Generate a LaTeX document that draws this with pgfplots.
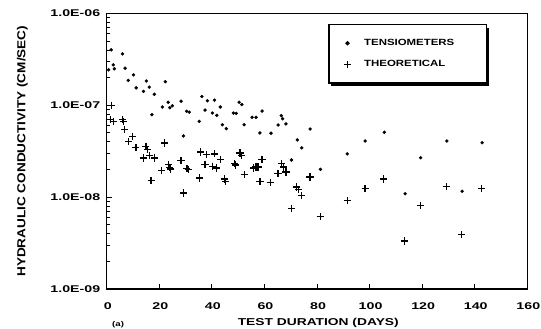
\documentclass[border=0pt]{standalone}
\usepackage{fontspec}
\usepackage{pgfplots}
\usepackage{pgfplotstable}
\pgfplotsset{compat=1.18}
\usetikzlibrary{shadows}
\setmainfont{Liberation Sans}
\newfontfamily\tickfam{Liberation Sans}[FakeStretch=1.45, BoldFeatures={FakeStretch=1.45}]
\newfontfamily\xlabfam{Liberation Sans}[FakeStretch=1.38, BoldFeatures={FakeStretch=1.38}]
\newfontfamily\ylabfam{Liberation Sans}[FakeStretch=1.17, BoldFeatures={FakeStretch=1.17}]
\newfontfamily\legfam{Liberation Sans}[FakeStretch=1.27, BoldFeatures={FakeStretch=1.27}]

\pgfplotstableread{
d k
0.7 2.44e-7
1.7 4.02e-7
2.5 2.76e-7
2.9 2.50e-7
6.0 3.64e-7
7.0 2.54e-7
8.2 1.87e-7
10.2 2.15e-7
11.2 1.55e-7
14.0 1.42e-7
15.1 1.84e-7
16.2 1.58e-7
17.2 7.91e-8
18.1 1.32e-7
21.2 9.59e-8
22.3 1.81e-7
23.4 1.08e-7
24.0 9.42e-8
25.0 9.90e-8
28.3 1.11e-7
29.2 4.64e-8
30.4 8.61e-8
31.4 8.45e-8
35.2 6.70e-8
36.2 1.25e-7
37.4 8.89e-8
38.3 1.12e-7
40.2 8.24e-8
41.0 1.14e-7
41.9 7.78e-8
43.2 9.59e-8
44.0 6.15e-8
45.5 5.57e-8
48.2 8.24e-8
49.3 8.18e-8
50.4 1.08e-7
51.4 1.02e-7
52.3 6.15e-8
55.3 7.41e-8
56.8 7.41e-8
58.3 5.00e-8
59.1 8.67e-8
62.5 4.97e-8
65.2 6.11e-8
66.4 7.71e-8
66.9 7.15e-8
68.2 6.27e-8
70.3 2.54e-8
72.5 4.20e-8
74.2 3.44e-8
77.4 5.52e-8
81.3 2.01e-8
91.5 2.96e-8
98.3 4.09e-8
105.6 5.09e-8
113.5 1.09e-8
119.4 2.69e-8
129.4 4.09e-8
135.2 1.16e-8
142.8 3.92e-8
}\tens

\pgfplotstableread{
d k
1.7 1.00e-7
1.4 6.97e-8
2.5 6.70e-8
5.9 6.97e-8
6.5 6.70e-8
6.9 5.43e-8
8.3 4.06e-8
9.8 4.60e-8
11.1 3.49e-8
13.9 2.67e-8
14.9 3.58e-8
15.5 3.29e-8
16.2 2.83e-8
16.9 1.51e-8
18.1 2.67e-8
20.8 1.95e-8
22.0 3.89e-8
23.4 2.26e-8
24.0 2.12e-8
24.4 2.03e-8
28.3 2.50e-8
29.2 1.11e-8
30.5 2.05e-8
31.0 2.00e-8
35.2 1.62e-8
35.8 3.10e-8
37.4 2.26e-8
38.0 2.90e-8
40.2 2.17e-8
41.0 2.96e-8
41.9 2.08e-8
43.4 2.56e-8
44.7 1.58e-8
45.3 1.49e-8
48.6 2.32e-8
49.1 2.24e-8
50.7 3.03e-8
51.4 2.86e-8
52.3 1.76e-8
55.8 2.08e-8
56.8 2.13e-8
57.6 2.13e-8
58.3 1.49e-8
59.1 2.56e-8
62.2 1.44e-8
65.2 1.81e-8
66.4 2.32e-8
67.3 2.13e-8
68.2 1.88e-8
70.3 7.59e-9
72.3 1.29e-8
73.0 1.21e-8
74.2 1.04e-8
77.3 1.66e-8
81.2 6.11e-9
91.5 9.18e-9
98.3 1.24e-8
105.4 1.58e-8
113.4 3.33e-9
119.4 8.13e-9
129.3 1.30e-8
135.1 3.89e-9
142.7 1.25e-8
}\theo

\begin{document}
\begin{tikzpicture}
\useasboundingbox (0,0) rectangle (541bp,329bp);
\begin{axis}[
  at={(106.7bp,40bp)}, anchor=south west,
  scale only axis, width=420.6bp, height=275.5bp,
  xmin=0, xmax=160, ymin=1e-9, ymax=1e-6,
  ymode=log,
  axis line style={line width=1.3bp},
  tick align=inside,
  xtick pos=bottom, ytick pos=left,
  xtick={0,20,40,60,80,100,120,140,160},
  xticklabels={0,20,40,60,80,100,120,140,160},
  ytick={1e-9,1e-8,1e-7,1e-6},
  yticklabels={1.0E-09,1.0E-08,1.0E-07,1.0E-06},
  minor ytick={2e-9,3e-9,4e-9,5e-9,6e-9,7e-9,8e-9,9e-9,2e-8,3e-8,4e-8,5e-8,6e-8,7e-8,8e-8,9e-8,2e-7,3e-7,4e-7,5e-7,6e-7,7e-7,8e-7,9e-7},
  major tick length=5bp, minor tick length=3.5bp,
  every tick/.style={line width=1bp, black},
  xticklabel style={font=\tickfam\bfseries\fontsize{9.8bp}{11bp}\selectfont, yshift=-10bp, xshift=1bp},
  yticklabel style={font=\tickfam\bfseries\fontsize{9.8bp}{11bp}\selectfont, xshift=-3bp},
  xlabel={TEST DURATION (DAYS)},
  ylabel={HYDRAULIC CONDUCTIVITY (CM/SEC)},
  xlabel style={font=\xlabfam\bfseries\fontsize{10bp}{12bp}\selectfont, at={(axis description cs:0.503,-0.1216)}, anchor=center},
  ylabel style={font=\ylabfam\bfseries\fontsize{11.6bp}{13bp}\selectfont, at={(axis description cs:-0.2002,0.5)}, anchor=center},
  legend style={at={(0.527,0.961)}, anchor=north west, draw=black, line width=1.2bp,
    inner xsep=15bp, inner ysep=11.5bp, row sep=7.5bp, column sep=10bp,
    font=\legfam\bfseries\fontsize{9bp}{10bp}\selectfont,
    nodes={text width=104bp, align=left, inner sep=3bp},
    drop shadow={shadow xshift=2.5bp, shadow yshift=-3bp, fill=black, opacity=1}},
  legend cell align=left,
]
\addplot[only marks, mark=*, mark size=1.5bp, black] table[x=d,y=k] {\tens};
\addlegendentry{TENSIOMETERS}
\addplot[only marks, mark=+, mark size=3.6bp, black, line width=1.3bp] table[x=d,y=k] {\theo};
\addlegendentry{THEORETICAL}
\end{axis}
\node[anchor=south west, inner sep=0pt, font=\xlabfam\bfseries\fontsize{7bp}{8bp}\selectfont] at (112bp,1bp) {(a)};
\end{tikzpicture}
\end{document}
